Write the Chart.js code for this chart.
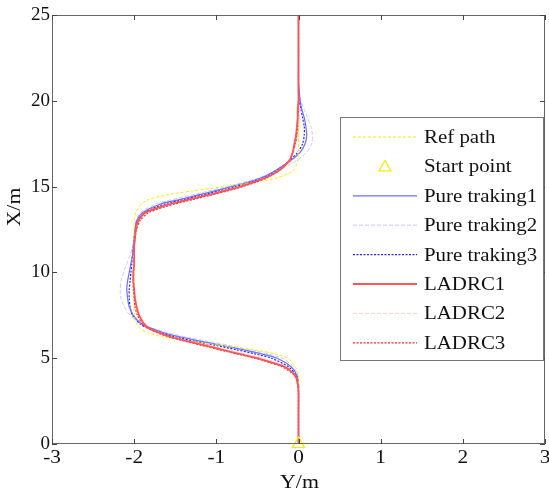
<!DOCTYPE html>
<html>
<head>
<meta charset="utf-8">
<script src="https://cdn.jsdelivr.net/npm/chart.js@4/dist/chart.umd.min.js"></script>
<style>
  html, body { margin: 0; padding: 0; background: #fff; }
</style>
</head>
<body>
<canvas id="chart" width="549" height="491"></canvas>
<script>
'use strict';

// Longitudinal position X (m) at which every lateral offset below is sampled
const xPos = [0, 2, 3, 3.5, 4, 4.5, 5, 5.25, 5.5, 5.75,
    6, 6.25, 6.5, 6.75, 7, 7.5, 8, 8.5, 9, 9.5,
    10, 10.5, 11, 11.5, 12, 12.5, 13, 13.5, 14, 14.25,
    14.5, 14.75, 15, 15.25, 15.5, 15.75, 16, 16.5, 17, 17.5,
    18, 18.5, 19, 19.5, 20, 20.5, 21, 22, 23, 24, 25];

// Lateral offset Y (m) of each run
const refPath = [0, 0, 0, 0, 0, -0.04, -0.13, -0.28, -0.56, -0.95,
    -1.32, -1.66, -1.84, -1.93, -1.97, -2, -2, -2, -2, -2,
    -2, -2, -2, -2, -2, -2, -2, -1.98, -1.91, -1.82,
    -1.62, -1.29, -0.90, -0.55, -0.27, -0.13, -0.05, -0.01, 0, 0,
    0, 0, 0, 0, 0, 0, 0, 0, 0, 0, 0];

const pure1 = [0, 0, 0, 0, -0.02, -0.09, -0.26, -0.45, -0.68, -0.94,
    -1.20, -1.45, -1.65, -1.80, -1.91, -2.01, -2.06, -2.08, -2.09, -2.08,
    -2.06, -2.04, -2.02, -2.01, -2.0, -1.99, -1.97, -1.89, -1.67, -1.45,
    -1.23, -1.02, -0.82, -0.62, -0.46, -0.35, -0.26, -0.10, 0.02, 0.08,
    0.10, 0.09, 0.07, 0.04, 0.02, 0.01, 0, 0, 0, 0, 0];

const pure2 = [0, 0, 0, 0, -0.01, -0.06, -0.20, -0.37, -0.59, -0.85,
    -1.12, -1.38, -1.60, -1.78, -1.91, -2.05, -2.12, -2.16, -2.17, -2.16,
    -2.13, -2.09, -2.05, -2.02, -2.0, -1.99, -1.98, -1.92, -1.73, -1.53,
    -1.31, -1.09, -0.88, -0.67, -0.49, -0.34, -0.22, -0.03, 0.10, 0.16,
    0.17, 0.15, 0.11, 0.07, 0.03, 0.01, 0, 0, 0, 0, 0];

const pure3 = [0, 0, 0, 0, -0.03, -0.12, -0.33, -0.53, -0.76, -1.01,
    -1.27, -1.50, -1.69, -1.83, -1.93, -2.02, -2.05, -2.06, -2.06, -2.05,
    -2.04, -2.03, -2.02, -2.01, -2.0, -1.99, -1.96, -1.87, -1.62, -1.40,
    -1.18, -0.97, -0.78, -0.59, -0.44, -0.33, -0.25, -0.11, -0.01, 0.05,
    0.07, 0.07, 0.05, 0.03, 0.01, 0, 0, 0, 0, 0, 0];

const ladrc1 = [0, 0, 0, -0.01, -0.04, -0.17, -0.50, -0.72, -0.93, -1.14,
    -1.36, -1.56, -1.71, -1.82, -1.88, -1.94, -1.97, -1.99, -2.0, -2.01,
    -2.01, -2.0, -2.0, -2.0, -1.99, -1.98, -1.95, -1.86, -1.55, -1.33,
    -1.11, -0.90, -0.71, -0.55, -0.41, -0.30, -0.22, -0.11, -0.07, -0.05,
    -0.03, -0.02, -0.01, -0.01, 0, 0, 0, 0, 0, 0, 0];

const ladrc2 = [0, 0, 0, -0.01, -0.03, -0.14, -0.42, -0.64, -0.86, -1.08,
    -1.30, -1.50, -1.66, -1.78, -1.86, -1.93, -1.97, -1.99, -2.0, -2.01,
    -2.01, -2.01, -2.0, -2.0, -1.99, -1.98, -1.96, -1.88, -1.60, -1.38,
    -1.16, -0.95, -0.75, -0.58, -0.44, -0.33, -0.24, -0.13, -0.06, -0.03,
    -0.01, 0, 0.01, 0.01, 0, 0, 0, 0, 0, 0, 0];

const ladrc3 = [0, 0, 0, -0.01, -0.05, -0.20, -0.53, -0.75, -0.97, -1.18,
    -1.39, -1.58, -1.73, -1.83, -1.90, -1.96, -1.99, -2.0, -2.01, -2.01,
    -2.01, -2.0, -2.0, -2.0, -1.99, -1.97, -1.93, -1.82, -1.50, -1.28,
    -1.07, -0.86, -0.68, -0.52, -0.39, -0.30, -0.22, -0.12, -0.07, -0.04,
    -0.02, -0.01, -0.01, 0, 0, 0, 0, 0, 0, 0, 0];

// Start point (Y, X)
const startPoint = [0, 0];

// Axis ticks
const yTicks = [-3, -2, -1, 0, 1, 2, 3];   // horizontal axis, Y/m
const xTicks = [0, 5, 10, 15, 20, 25];     // vertical axis, X/m

const FONT = "'Liberation Serif', 'Times New Roman', serif";

function toPoints(offsets) {
    return xPos.map((x, i) => ({ x: offsets[i], y: x }));
}

function lineSet(label, offsets, color, width, dash, order) {
    return {
        label: label,
        data: toPoints(offsets),
        showLine: true,
        borderColor: color,
        borderWidth: width,
        borderDash: dash,
        pointRadius: 0,
        tension: 0.25,
        order: order
    };
}

// hollow triangle like the start point marker
function triangle(ctx, cx, cy, r) {
    ctx.beginPath();
    ctx.moveTo(cx, cy - r);
    ctx.lineTo(cx + r * 0.866, cy + r / 2);
    ctx.lineTo(cx - r * 0.866, cy + r / 2);
    ctx.closePath();
    ctx.stroke();
}

// text slightly widened, the source figure is stretched sideways
function wideText(ctx, text, x, y, stretch) {
    ctx.save();
    ctx.translate(x, y);
    ctx.scale(stretch, 1);
    ctx.fillText(text, 0, 0);
    ctx.restore();
}

/**
 * Box, inward tick marks, x labels, axis titles and the legend
 */
const framePlugin = {
    id: 'frame',
    afterDatasetsDraw(chart) {
        const ctx = chart.ctx;
        const a = chart.chartArea;
        const xs = chart.scales.x;
        const ys = chart.scales.y;

        ctx.save();
        ctx.strokeStyle = '#666';
        ctx.lineWidth = 1;
        ctx.setLineDash([]);
        ctx.strokeRect(a.left + 0.5, a.top + 0.5, a.right - a.left - 1, a.bottom - a.top - 1);

        // inward ticks on all four sides
        ctx.strokeStyle = '#444';
        ctx.beginPath();
        yTicks.forEach(v => {
            const px = Math.round(xs.getPixelForValue(v)) + 0.5;
            ctx.moveTo(px, a.bottom); ctx.lineTo(px, a.bottom - 5);
            ctx.moveTo(px, a.top); ctx.lineTo(px, a.top + 5);
        });
        xTicks.forEach(v => {
            const py = Math.round(ys.getPixelForValue(v)) + 0.5;
            ctx.moveTo(a.left, py); ctx.lineTo(a.left + 5, py);
            ctx.moveTo(a.right, py); ctx.lineTo(a.right - 5, py);
        });
        ctx.stroke();

        ctx.fillStyle = '#111';
        ctx.font = '19px ' + FONT;
        ctx.textAlign = 'center';
        ctx.textBaseline = 'middle';

        // horizontal axis labels
        yTicks.forEach(v => {
            wideText(ctx, String(v), xs.getPixelForValue(v), a.bottom + 14, 1.12);
        });

        // axis titles
        wideText(ctx, 'Y/m', (a.left + a.right) / 2 + 1, 483, 1.15);
        ctx.save();
        ctx.translate(15, 207);
        ctx.rotate(-Math.PI / 2);
        wideText(ctx, 'X/m', 0, 0, 1.15);
        ctx.restore();

        // legend
        const lg = { left: 340, top: 117, width: 203, height: 243 };
        ctx.fillStyle = '#fff';
        ctx.fillRect(lg.left, lg.top, lg.width, lg.height);
        ctx.strokeStyle = '#777';
        ctx.strokeRect(lg.left + 0.5, lg.top + 0.5, lg.width, lg.height);

        ctx.textAlign = 'left';
        chart.data.datasets.forEach((ds, i) => {
            const y = lg.top + 20 + i * 29.4;
            ctx.save();
            if (ds.showLine) {
                ctx.strokeStyle = ds.borderColor;
                ctx.lineWidth = ds.borderWidth;
                ctx.setLineDash(ds.borderDash || []);
                ctx.beginPath();
                ctx.moveTo(lg.left + 13, y);
                ctx.lineTo(lg.left + 77, y);
                ctx.stroke();
            } else {
                ctx.strokeStyle = ds.pointBorderColor;
                ctx.lineWidth = ds.pointBorderWidth;
                triangle(ctx, lg.left + 45, y + 1, ds.pointRadius);
            }
            ctx.restore();
            ctx.fillStyle = '#111';
            wideText(ctx, ds.label, lg.left + 84, y + 1, 1.1);
        });
        ctx.restore();
    }
};

new Chart(document.getElementById('chart'), {
    type: 'scatter',
    data: {
        datasets: [
            lineSet('Ref path', refPath, '#f5f000', 1, [3, 2], 2),
            {
                label: 'Start point',
                data: [{ x: startPoint[0], y: startPoint[1] }],
                showLine: false,
                pointStyle: 'triangle',
                pointRadius: 7,
                pointBorderWidth: 1.2,
                pointBorderColor: '#f2ee00',
                pointBackgroundColor: 'rgba(0,0,0,0)',
                clip: false,
                order: -1
            },
            lineSet('Pure traking1', pure1, '#6e6eff', 1.2, [], 3),
            lineSet('Pure traking2', pure2, '#c9c9ff', 1, [4, 2], 6),
            lineSet('Pure traking3', pure3, '#2424ff', 1.2, [2, 1.5], 4),
            lineSet('LADRC1', ladrc1, '#ff5555', 1.8, [], 0),
            lineSet('LADRC2', ladrc2, '#ffcdcd', 1, [4, 2], 5),
            lineSet('LADRC3', ladrc3, '#ff2626', 1.2, [2, 1.5], 1)
        ]
    },
    options: {
        responsive: false,
        animation: false,
        // the start marker would otherwise push the plot in
        layout: { autoPadding: false, padding: { top: 15, right: 4, left: 0, bottom: 0 } },
        plugins: {
            legend: { display: false },
            tooltip: { enabled: false }
        },
        scales: {
            x: {
                type: 'linear',
                min: -3,
                max: 3,
                afterBuildTicks: s => { s.ticks = yTicks.map(v => ({ value: v })); },
                afterFit: s => { s.height = 47; },
                grid: { display: false, drawTicks: false },
                border: { display: false },
                ticks: { display: false }
            },
            y: {
                type: 'linear',
                min: 0,
                max: 25,
                afterBuildTicks: s => { s.ticks = xTicks.map(v => ({ value: v })); },
                afterFit: s => { s.width = 52; },
                grid: { display: false, drawTicks: false },
                border: { display: false },
                ticks: { font: { family: FONT, size: 19 }, color: '#111', padding: 2 }
            }
        }
    },
    plugins: [framePlugin]
});
</script>
</body>
</html>
